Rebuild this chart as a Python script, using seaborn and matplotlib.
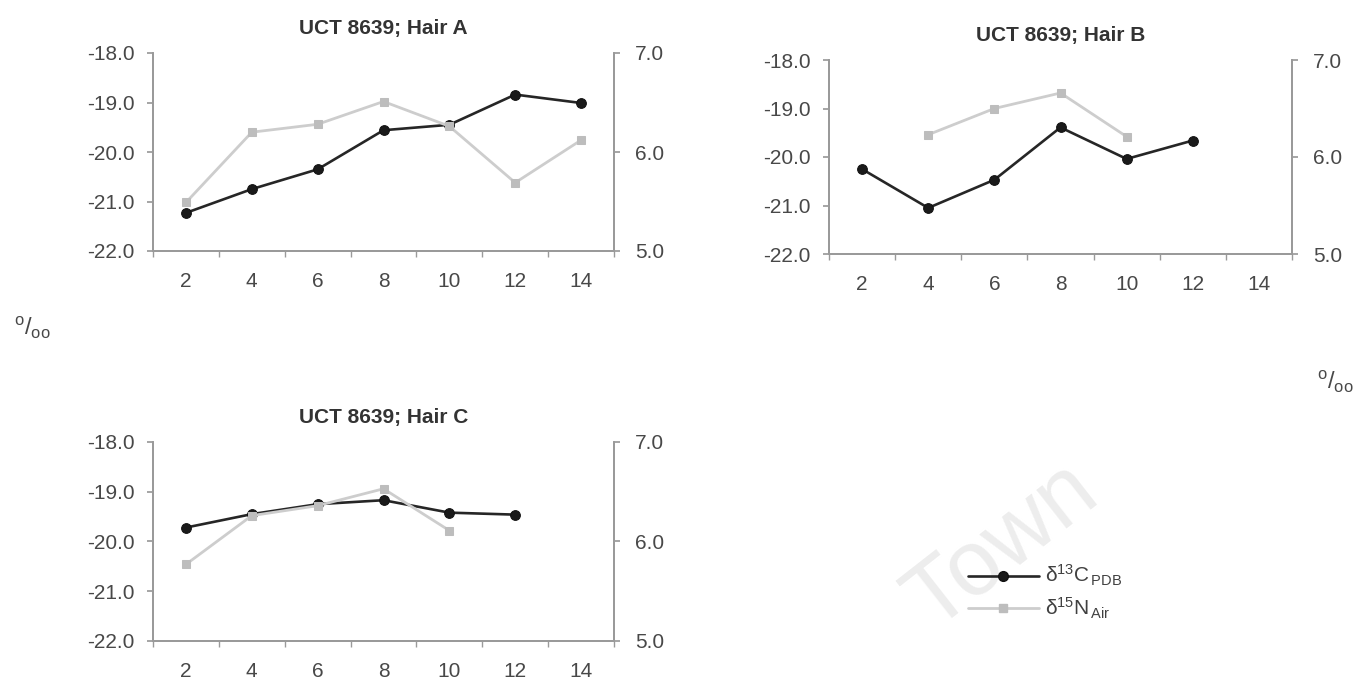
import matplotlib
matplotlib.use("Agg")
import matplotlib.pyplot as plt
from matplotlib.lines import Line2D
import seaborn as sns

# ---------------- data ----------------
titles = ["UCT 8639; Hair A", "UCT 8639; Hair B", "UCT 8639; Hair C"]

carbon_x_a = [2, 4, 6, 8, 10, 12, 14]
carbon_a = [-21.23, -20.75, -20.35, -19.56, -19.45, -18.84, -19.01]
nitrogen_x_a = [2, 4, 6, 8, 10, 12, 14]
nitrogen_a = [5.49, 6.20, 6.28, 6.51, 6.26, 5.69, 6.12]

carbon_x_b = [2, 4, 6, 8, 10, 12]
carbon_b = [-20.25, -21.05, -20.47, -19.39, -20.04, -19.66]
nitrogen_x_b = [4, 6, 8, 10]
nitrogen_b = [6.23, 6.50, 6.66, 6.21]

carbon_x_c = [2, 4, 6, 8, 10, 12]
carbon_c = [-19.72, -19.45, -19.25, -19.17, -19.42, -19.46]
nitrogen_x_c = [2, 4, 6, 8, 10]
nitrogen_c = [5.77, 6.26, 6.36, 6.53, 6.11]

x_ticks = [2, 4, 6, 8, 10, 12, 14]
left_ticks = [-18.0, -19.0, -20.0, -21.0, -22.0]
right_ticks = [5.0, 6.0, 7.0]
legend_labels = ["δ$^{13}$C$_{\\,\\mathrm{PDB}}$", "δ$^{15}$N$_{\\,\\mathrm{Air}}$"]
unit_label = r"$^{\mathrm{o}}/_{\mathrm{oo}}$"

# ---------------- style ----------------
sns.set_theme(style="white")
plt.rcParams["font.family"] = ["Liberation Sans", "DejaVu Sans"]
plt.rcParams["mathtext.fontset"] = "custom"
plt.rcParams["mathtext.rm"] = "Liberation Sans"
plt.rcParams["mathtext.it"] = "Liberation Sans:italic"

C_COLOR = "#262626"
N_COLOR = "#cdcdcd"
N_MARK = "#bdbdbd"
SPINE = "#9a9a9a"
TXT = "#484848"

W, H = 1361, 689
fig = plt.figure(figsize=(W / 100, H / 100), dpi=100)


def rect(l, t, r, b):
    return [l / W, 1 - b / H, (r - l) / W, (b - t) / H]


panels = [
    (rect(153, 53, 614, 251), carbon_x_a, carbon_a, nitrogen_x_a, nitrogen_a, titles[0]),
    (rect(829, 60, 1292, 254), carbon_x_b, carbon_b, nitrogen_x_b, nitrogen_b, titles[1]),
    (rect(153, 442, 614, 641), carbon_x_c, carbon_c, nitrogen_x_c, nitrogen_c, titles[2]),
]

# faint scan watermark
fig.text(1102 / W, 1 - 500 / H, "Town", fontsize=66, color="#ededed",
         rotation=38, rotation_mode="anchor", ha="right", va="baseline", zorder=0)

for pos, cx, cy, nx, ny, title in panels:
    ax = fig.add_axes(pos)
    ax.patch.set_alpha(0)
    sns.lineplot(x=cx, y=cy, ax=ax, color=C_COLOR, linewidth=1.9, marker="o",
                 markersize=7, markeredgecolor="#111111", markerfacecolor="#1a1a1a",
                 legend=False)
    ax2 = ax.twinx()
    sns.lineplot(x=nx, y=ny, ax=ax2, color=N_COLOR, linewidth=2.0, marker="s",
                 markersize=6, markeredgecolor=N_MARK, markerfacecolor=N_MARK,
                 legend=False)
    ax.set_xlim(1, 15)
    ax.set_ylim(-22, -18)
    ax2.set_ylim(5, 7)
    ax.set_xticks(x_ticks)
    ax.set_xticklabels([str(v) for v in x_ticks])
    ax.set_xticks([1, 3, 5, 7, 9, 11, 13, 15], minor=True)
    ax.set_yticks(left_ticks)
    ax.set_yticklabels([f"{v:.1f}" for v in left_ticks])
    ax2.set_yticks(right_ticks)
    ax2.set_yticklabels([f"{v:.1f}" for v in right_ticks])
    ax.set_xlabel("")
    ax.set_ylabel("")
    ax2.set_ylabel("")
    ax.grid(False)
    ax2.grid(False)
    for a in (ax, ax2):
        a.spines["top"].set_visible(False)
        for s in ("left", "right", "bottom"):
            a.spines[s].set_color(SPINE)
            a.spines[s].set_linewidth(1.3)
    ax.tick_params(axis="x", which="major", length=0, pad=15, labelsize=15, labelcolor=TXT)
    ax.tick_params(axis="x", which="minor", length=4, color=SPINE, direction="out", bottom=True)
    ax.tick_params(axis="y", length=4, color=SPINE, direction="out", left=True,
                   labelsize=15, labelcolor=TXT, pad=9)
    ax2.tick_params(axis="y", length=4, color=SPINE, direction="out", right=True,
                    labelsize=15, labelcolor=TXT, pad=11)
    ax.set_title(title, fontsize=15, fontweight="bold", color="#333333", pad=14)

# legend
handles = [
    Line2D([], [], color=C_COLOR, linewidth=1.9, marker="o", markersize=7,
           markerfacecolor="#1a1a1a", markeredgecolor="#111111"),
    Line2D([], [], color=N_COLOR, linewidth=2.0, marker="s", markersize=6,
           markerfacecolor=N_MARK, markeredgecolor=N_MARK),
]
fig.legend(handles, legend_labels, loc="center left",
           bbox_to_anchor=(968 / W, 1 - 592 / H), frameon=False, fontsize=15,
           handlelength=3.4, handletextpad=0.3, labelspacing=0.35,
           borderpad=0, borderaxespad=0, labelcolor="#404040")

# per-mille unit labels
fig.text(32 / W, 1 - 328 / H, unit_label, fontsize=17, color=TXT, ha="center", va="center")
fig.text(1335 / W, 1 - 382 / H, unit_label, fontsize=17, color=TXT, ha="center", va="center")

fig.savefig("out.png", dpi=100, facecolor="white")
